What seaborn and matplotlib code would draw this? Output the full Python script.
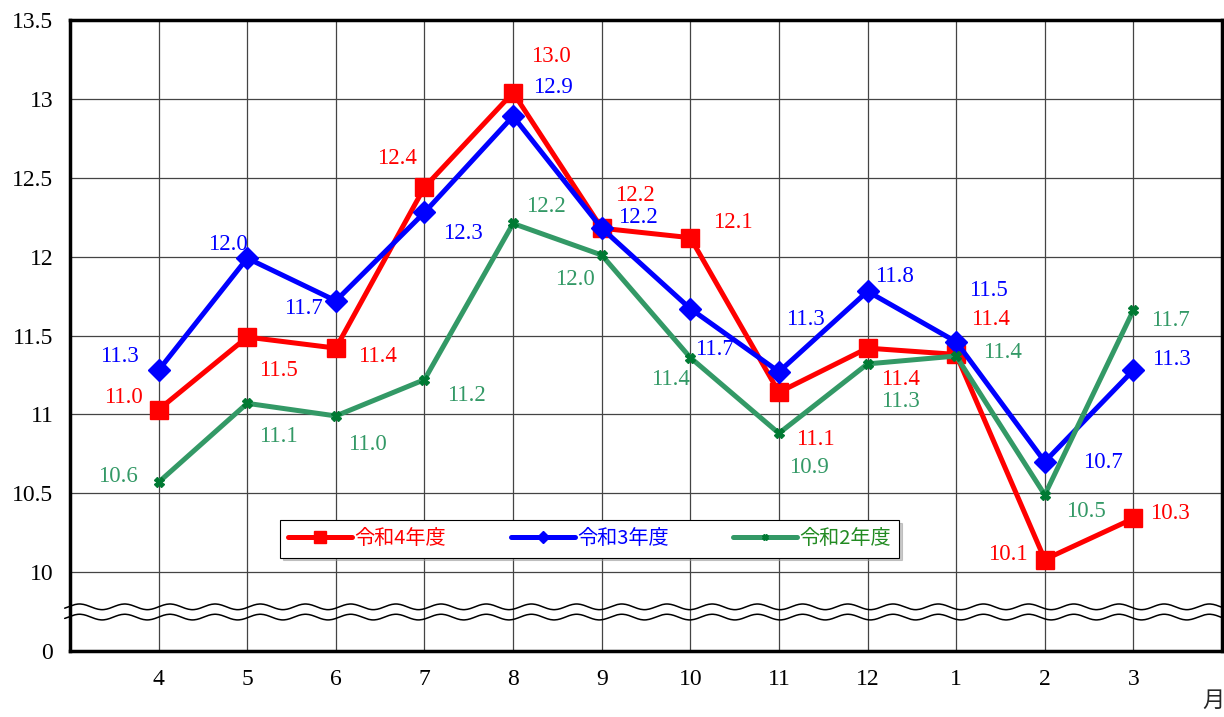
import numpy as np
import pandas as pd
import matplotlib
matplotlib.use("Agg")
import matplotlib.pyplot as plt
import seaborn as sns

# months (fiscal year order) and the three series
months = ["4", "5", "6", "7", "8", "9", "10", "11", "12", "1", "2", "3"]
r4 = [11.03, 11.49, 11.42, 12.44, 13.04, 12.18, 12.12, 11.14, 11.42, 11.38, 10.08, 10.34]
r3 = [11.28, 11.99, 11.72, 12.28, 12.89, 12.18, 11.67, 11.27, 11.78, 11.46, 10.70, 11.28]
r2 = [10.57, 11.07, 10.99, 11.22, 12.21, 12.01, 11.36, 10.88, 11.32, 11.37, 10.49, 11.66]
series_names = ["令和4年度", "令和3年度", "令和2年度"]

# y axis: broken at the bottom, 9.5 position is shown as 0
ytick_pos = [9.5, 10, 10.5, 11, 11.5, 12, 12.5, 13, 13.5]
ytick_labels = ["0", "10", "10.5", "11", "11.5", "12", "12.5", "13", "13.5"]

# label offsets in pixels (dx, dy) relative to each point, dy positive = up
off_r4 = [(-35, 12), (31, -33), (42, -8), (-27, 29), (38, 36), (33, 33),
          (43, 15), (36, -47), (33, -31), (34, 35), (-37, 5), (37, 5)]
off_r3 = [(-39, 14), (-19, 14), (-32, -8), (38, -21), (40, 29), (36, 11),
          (24, -41), (26, 52), (27, 15), (32, 51), (58, -1), (38, 11)]
off_r2 = [(-41, 6), (31, -33), (32, -29), (42, -16), (33, 17), (-27, -24),
          (-20, -22), (30, -34), (33, -38), (46, 4), (41, -17), (37, -10)]

sns.set_theme(style="white")
plt.rcParams["font.family"] = ["Liberation Serif", "Noto Sans CJK JP", "DejaVu Sans"]

fig = plt.figure(figsize=(12.24, 7.17), dpi=100)
ax = fig.add_axes([70 / 1224, 1 - 651 / 717, 1152 / 1224, 631 / 717])

x = np.arange(len(months))
df = pd.DataFrame({"x": np.tile(x, 3),
                   "y": r4 + r3 + r2,
                   "s": np.repeat(series_names, len(months))})

styles = {
    "令和4年度": dict(color="#FF0000", marker="s", ms=13.5, mfc="#FF0000", mec="#FF0000"),
    "令和3年度": dict(color="#0000FF", marker="D", ms=11, mfc="#0000FF", mec="#0000FF"),
    "令和2年度": dict(color="#339966", marker="X", ms=7, mfc="#007A33", mec="#007A33"),
}

for name in series_names:
    st = styles[name]
    sns.lineplot(data=df[df["s"] == name], x="x", y="y", ax=ax, color=st["color"],
                 lw=3.6, marker=st["marker"], markersize=st["ms"],
                 markerfacecolor=st["mfc"], markeredgecolor=st["mec"],
                 markeredgewidth=1, label=name, zorder=3)

for vals, offs, col in [(r2, off_r2, "#339966"), (r3, off_r3, "#0000FF"), (r4, off_r4, "#FF0000")]:
    for xi, v, (dx, dy) in zip(x, vals, offs):
        ax.annotate(f"{v:.1f}", (xi, v), xytext=(dx * 0.72, dy * 0.72),
                    textcoords="offset points", ha="center", va="center",
                    color=col, family=["Liberation Serif"], fontsize=16.5, zorder=5)

ax.set_xlim(-1, 12)
ax.set_ylim(9.5, 13.5)
ax.set_xticks(x)
ax.set_xticklabels(months)
ax.set_yticks(ytick_pos)
ax.set_yticklabels(ytick_labels)
ax.set_xlabel("")
ax.set_ylabel("")
ax.tick_params(axis="both", labelsize=17, colors="black", length=4, width=1)
ax.tick_params(axis="x", length=0, pad=13)
ax.tick_params(axis="y", direction="out", pad=8)
ax.grid(True, color="#444444", lw=0.9)
ax.set_axisbelow(True)
for sp in ax.spines.values():
    sp.set_color("black")
    sp.set_linewidth(2.5)
    sp.set_visible(True)

# broken axis wavy marks
wx = np.linspace(-1.06, 12.05, 800)
wave = 0.018 * np.sin(wx * 2 * np.pi / 0.51)
for base in (9.78, 9.715):
    ax.plot(wx, base + wave, color="black", lw=1.1, clip_on=False, zorder=4)

leg = ax.legend(loc="center", bbox_to_anchor=(0.451, 0.1775), ncol=3, frameon=True,
                fancybox=False, shadow={"color": "#999999", "ox": 2, "oy": -2},
                edgecolor="black", framealpha=1,
                prop={"family": ["Noto Sans CJK JP"], "size": 14.5}, handlelength=3.2,
                columnspacing=3.2, handletextpad=0.1, borderpad=0.4,
                borderaxespad=0, markerscale=0.6)
leg.get_frame().set_linewidth(0.8)
for t, name in zip(leg.get_texts(), series_names):
    t.set_color(styles[name]["color"] if name != "令和2年度" else "#228B22")

fig.text(1213 / 1224, 1 - 700 / 717, "月", ha="center", va="center", fontsize=16,
         family=["Noto Sans CJK JP"])

fig.savefig("out.png", dpi=100)
